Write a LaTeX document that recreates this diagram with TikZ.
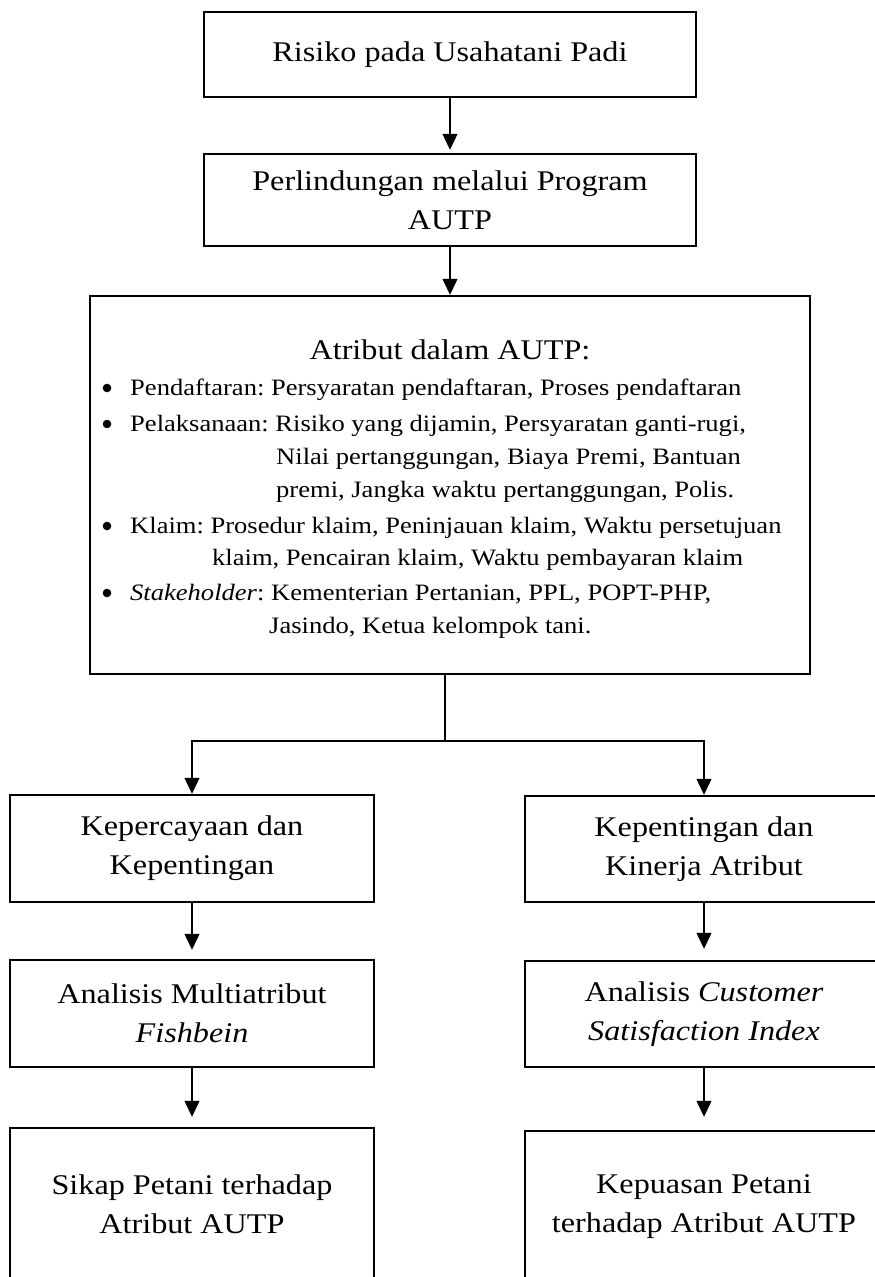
\documentclass[tikz,border=0pt]{standalone}
\usepackage{fontspec}
\setmainfont{Liberation Serif}[FakeStretch=1.13]
\usetikzlibrary{arrows.meta}
\frenchspacing

\begin{document}
\begin{tikzpicture}[x=1pt,y=-1pt]
  \useasboundingbox (0,0) rectangle (875,1277);%
  \clip (0,0) rectangle (875,1277);%
  \begin{scope}[%
      kotak/.style={draw,line width=2.4pt,align=center,inner sep=0pt,%
        font=\fontsize{28.5}{39}\selectfont},%
      isi/.style={anchor=base west,inner sep=0pt,%
        font=\fontsize{23.5}{30}\selectfont},%
      garis/.style={line width=1.2pt},%
      panah/.style={garis,-{Triangle[length=16pt,width=15pt]}}%
    ]
    % bagian atas
    \node[kotak,minimum width=492pt,minimum height=85pt] (risiko) at (450,54.5) {Risiko pada Usahatani Padi};%
    \node[kotak,minimum width=492pt,minimum height=92pt] (lindung) at (450,200) {Perlindungan melalui Program\\AUTP};%
    \node[kotak,minimum width=720pt,minimum height=378pt] (atribut) at (450,485) {};%
    \draw[panah,shorten >=3pt] (risiko) -- (lindung);%
    \draw[panah] (lindung) -- (atribut);%
    %
    % isi kotak atribut
    \node[anchor=base,inner sep=0pt,font=\fontsize{28.5}{39}\selectfont] (judul) at (450,359) {Atribut dalam AUTP:};%
    \foreach \y [count=\i] in {388,424,526,593}%
    \coordinate (b\i) at (107,\y);%
    \foreach \i in {1,2,3,4}%
    \fill (b\i) circle (4.3pt);%
    \foreach \x/\y/\teks [count=\i] in {%
        130/395/{Pendaftaran: Persyaratan pendaftaran, Proses pendaftaran},%
        130/431/{Pelaksanaan: Risiko yang dijamin, Persyaratan ganti-rugi,},%
        276/464/{Nilai pertanggungan, Biaya Premi, Bantuan},%
        276/497/{premi, Jangka waktu pertanggungan, Polis.},%
        130/533/{Klaim: Prosedur klaim, Peninjauan klaim, Waktu persetujuan},%
        212/565/{klaim, Pencairan klaim, Waktu pembayaran klaim},%
        130/600/{\textit{Stakeholder}: Kementerian Pertanian, PPL, POPT-PHP,},%
        269/633/{Jasindo, Ketua kelompok tani.}}%
    \node[isi] (baris\i) at (\x,\y) {\teks};%
    %
    % dua cabang
    \coordinate (cabang) at (445,741);%
    \node[kotak,minimum width=364pt,minimum height=107pt] (percaya) at (192,848.5) {Kepercayaan dan\\Kepentingan};%
    \node[kotak,minimum width=358pt,minimum height=106pt] (penting) at (704,849) {Kepentingan dan\\Kinerja Atribut};%
    \node[kotak,minimum width=364pt,minimum height=107pt] (fishbein) at (192,1013.5) {Analisis Multiatribut\\\textit{Fishbein}};%
    \node[kotak,minimum width=358pt,minimum height=106pt] (csi) at (704,1014) {Analisis \textit{Customer}\\\textit{Satisfaction Index}};%
    \node[kotak,minimum width=364pt,minimum height=153pt] (sikap) at (192,1204.5) {Sikap Petani terhadap\\Atribut AUTP};%
    \node[kotak,minimum width=358pt,minimum height=151pt] (puas) at (704,1206.5) {Kepuasan Petani\\terhadap Atribut AUTP};%
    \draw[garis] (atribut.south -| cabang) -- (cabang);%
    \draw[panah] (cabang) -| (percaya.north);%
    \draw[panah] (cabang) -| (penting.north);%
    \draw[panah,shorten >=9pt] (percaya) -- (fishbein);%
    \draw[panah,shorten >=10pt] (fishbein) -- (sikap);%
    \draw[panah,shorten >=11pt] (penting) -- (csi);%
    \draw[panah,shorten >=13pt] (csi) -- (puas);%
  \end{scope}
\end{tikzpicture}
\end{document}
